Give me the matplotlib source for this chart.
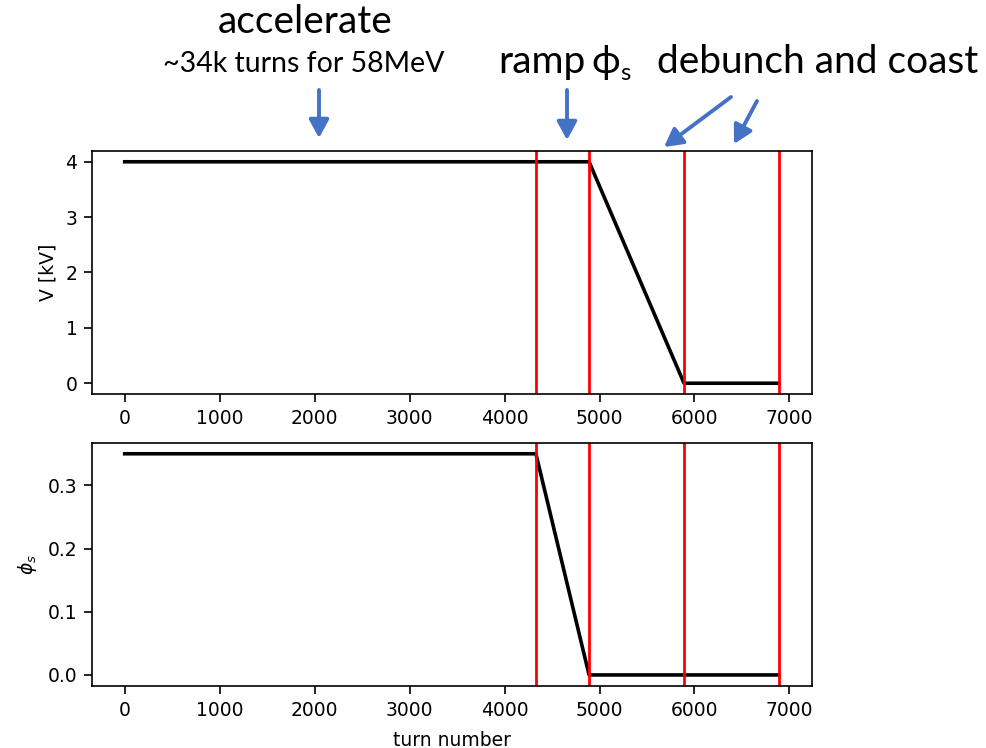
import matplotlib
matplotlib.use("Agg")
import matplotlib.pyplot as plt
from matplotlib.patches import FancyArrowPatch

# turn numbers where the phases change
phase_edges = [4330, 4890, 5890, 6890]

# RF voltage programme
v_turns = [0, 4890, 5890, 6890]
v_kv = [4.0, 4.0, 0.0, 0.0]

# synchronous phase programme
phi_turns = [0, 4330, 4890, 6890]
phi_s = [0.35, 0.35, 0.0, 0.0]

x_ticks = [0, 1000, 2000, 3000, 4000, 5000, 6000, 7000]
v_ticks = [0, 1, 2, 3, 4]
phi_ticks = [0.0, 0.1, 0.2, 0.3]

W, H = 987, 748
BLUE = "#4472C4"
ANNOT_FONT = ["Lato", "DejaVu Sans"]

plt.rcParams["font.size"] = 13.5
plt.rcParams["axes.linewidth"] = 1.2

fig = plt.figure(figsize=(W / 100, H / 100), dpi=100)
ax1 = fig.add_axes([92 / W, 1 - 394.3 / H, 719.7 / W, 243.6 / H])
ax2 = fig.add_axes([92 / W, 1 - 686 / H, 719.7 / W, 243.3 / H])

ax1.plot(v_turns, v_kv, color="black", lw=2.6)
ax2.plot(phi_turns, phi_s, color="black", lw=2.6)
for ax in (ax1, ax2):
    for t in phase_edges:
        ax.axvline(t, color="red", lw=2.0)
    ax.set_xticks(x_ticks)
    ax.tick_params(labelsize=13.5, width=1.2, length=5.5, pad=5)

ax1.set_yticks(v_ticks)
ax2.set_yticks(phi_ticks)
ax1.set_ylabel("V [kV]", fontsize=13.5, labelpad=6)
ax2.set_ylabel(r"$\phi_s$", fontsize=13.5, labelpad=6)
ax2.set_xlabel("turn number", fontsize=13.5, labelpad=8)


def fig_text(x, y, s, size, ha="left"):
    # x, y in pixels from the top-left corner, y is the baseline
    fig.text(x / W, 1 - y / H, s, fontsize=size, family=ANNOT_FONT,
             va="baseline", ha=ha)


fig_text(305, 33, "accelerate", 28, ha="center")
fig_text(304, 72, "~34k turns for 58MeV", 20.5, ha="center")
fig_text(498, 73, "ramp", 28)
fig_text(606, 73, "\u03d5", 28, ha="center")
fig_text(620, 80, "s", 17)
fig_text(657, 73, "debunch and coast", 28)

# arrows pointing at the phases
arrows = [((319, 90), (319, 138)),
          ((567, 90), (567, 140)),
          ((731, 97), (664, 147)),
          ((757, 101), (734, 144))]
for (x0, y0), (x1, y1) in arrows:
    fig.add_artist(FancyArrowPatch(
        (x0 / W, 1 - y0 / H), (x1 / W, 1 - y1 / H),
        transform=fig.transFigure,
        arrowstyle="-|>,head_length=0.55,head_width=0.3",
        mutation_scale=20, color=BLUE, lw=2.8,
        shrinkA=0, shrinkB=0))

fig.savefig("out.png", dpi=100)
